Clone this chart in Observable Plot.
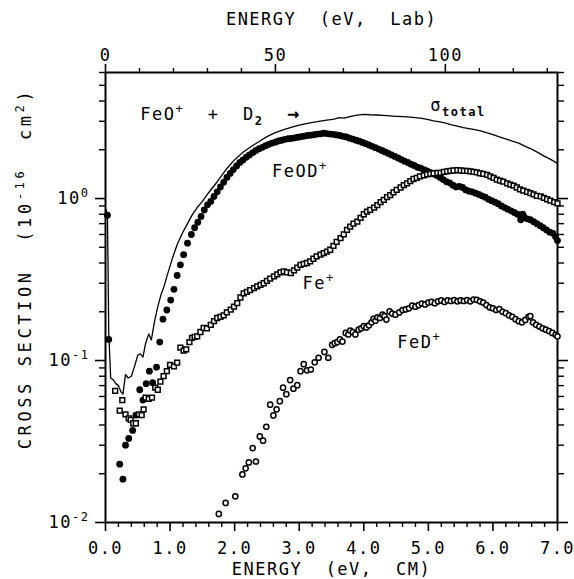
<!DOCTYPE html>
<html><head><meta charset="utf-8">
<script src="https://cdn.jsdelivr.net/npm/d3@7"></script>
<script src="https://cdn.jsdelivr.net/npm/@observablehq/plot@0.6"></script>
<style>
body{margin:0;background:#fff}
svg text{white-space:pre}
</style>
</head><body><div id="chart"></div>
<script>
// ---- axis / tick values ----
const massRatio = 19;                 // E_lab / E_cm for FeO+ (72) + D2 (4)
const xMajor = [0, 1, 2, 3, 4, 5, 6, 7];
const xMinor = [0.2,0.4,0.6,0.8,1.2,1.4,1.6,1.8,2.2,2.4,2.6,2.8,3.2,3.4,3.6,3.8,4.2,4.4,4.6,4.8,5.2,5.4,5.6,5.8,6.2,6.4,6.6,6.8];
const labMajor = [0, 50, 100];
const labMinor = [10, 20, 30, 40, 60, 70, 80, 90, 110, 120, 130];
const yMajor = [0.01, 0.1, 1];
const yMinor = [0.02,0.03,0.04,0.05,0.06,0.07,0.08,0.09,0.2,0.3,0.4,0.5,0.6,0.7,0.8,0.9,2,3,4,5,6];

// ---- data: [E_cm (eV), cross section (1e-16 cm^2)] ----
const sigmaTotal = [[0.01,0.85],[0.03,0.79],[0.04,0.36],[0.05,0.15],[0.08,0.078],[0.12,0.076],[0.16,0.072],[0.2,0.07],[0.24,0.064],[0.27,0.062],[0.31,0.082],[0.35,0.078],[0.4,0.080],[0.45,0.092],[0.5,0.108],[0.54,0.11],[0.58,0.105],[0.62,0.127],[0.67,0.146],[0.71,0.134],[0.76,0.175],[0.81,0.215],[0.86,0.255],[0.91,0.29],[0.96,0.34],[1.03,0.42],[1.11,0.52],[1.19,0.61],[1.27,0.70],[1.34,0.79],[1.42,0.88],[1.5,0.96],[1.6,1.09],[1.73,1.27],[1.86,1.50],[1.99,1.72],[2.12,1.92],[2.25,2.09],[2.38,2.25],[2.5,2.41],[2.63,2.55],[2.76,2.66],[2.9,2.77],[3.02,2.85],[3.15,2.92],[3.28,2.98],[3.4,3.04],[3.54,3.09],[3.62,3.16],[3.7,3.14],[3.8,3.22],[3.9,3.27],[4.0,3.31],[4.1,3.29],[4.2,3.28],[4.36,3.25],[4.5,3.22],[4.62,3.20],[4.72,3.18],[4.8,3.16],[4.9,3.13],[5.0,3.07],[5.08,3.02],[5.18,2.97],[5.27,2.92],[5.36,2.85],[5.45,2.80],[5.54,2.74],[5.63,2.70],[5.72,2.66],[5.81,2.62],[5.9,2.55],[6.0,2.48],[6.1,2.40],[6.22,2.32],[6.3,2.26],[6.4,2.20],[6.5,2.10],[6.6,2.02],[6.7,1.92],[6.8,1.82],[6.9,1.74],[7.0,1.65]];

const feODplus = [[0.03,0.79],[0.05,0.135],[0.22,0.0229],[0.27,0.0185],[0.31,0.030],[0.36,0.033],[0.42,0.037],[0.47,0.046],[0.53,0.066],[0.58,0.057],[0.63,0.072],[0.68,0.086],[0.73,0.073],[0.79,0.091],[0.84,0.13],[0.89,0.18],[0.95,0.205],[1.01,0.236],[1.06,0.275],[1.11,0.335],[1.16,0.39],[1.21,0.45],[1.27,0.53],[1.33,0.60],[1.38,0.66],[1.43,0.715],[1.48,0.775],[1.53,0.85],[1.58,0.915],
[1.63,0.96],[1.68,1.03],[1.73,1.10],[1.78,1.18],[1.83,1.26],[1.88,1.35],[1.93,1.43],[1.98,1.51],[2.03,1.59],[2.08,1.67],[2.13,1.73],[2.18,1.80],[2.23,1.86],[2.28,1.92],[2.33,1.98],[2.38,2.03],[2.43,2.07],[2.48,2.12],[2.53,2.16],[2.58,2.20],[2.63,2.23],[2.68,2.27],[2.73,2.29],[2.78,2.32],[2.83,2.34],[2.88,2.35],[2.93,2.37],[2.98,2.39],[3.03,2.41],[3.08,2.43],[3.13,2.45],[3.18,2.46],[3.23,2.48],[3.28,2.50],[3.33,2.51],[3.38,2.53],[3.43,2.52],[3.48,2.50],[3.53,2.49],[3.58,2.47],[3.63,2.45],[3.68,2.42],[3.73,2.40],[3.78,2.36],[3.83,2.33],[3.88,2.29],[3.93,2.26],[3.98,2.22],[4.03,2.18],[4.08,2.14],[4.13,2.10],[4.18,2.06],[4.23,2.02],[4.28,1.98],[4.33,1.94],[4.38,1.90],[4.43,1.86],[4.48,1.82],[4.53,1.78],[4.58,1.74],[4.63,1.70],[4.68,1.67],[4.73,1.63],[4.78,1.60],[4.83,1.56],[4.88,1.54],[4.93,1.51],[4.98,1.48],[5.03,1.45],[5.08,1.42],[5.13,1.39],[5.18,1.35],[5.23,1.31],[5.28,1.27],[5.33,1.25],[5.38,1.21],[5.43,1.18],[5.48,1.19],[5.53,1.17],[5.58,1.13],[5.63,1.11],[5.68,1.10],[5.73,1.08],[5.78,1.06],[5.83,1.04],[5.88,1.02],[5.93,0.99],[5.98,0.97],[6.03,0.95],[6.08,0.93],[6.13,0.90],[6.18,0.88],[6.23,0.86],[6.28,0.84],[6.33,0.82],[6.38,0.80],[6.43,0.74],[6.46,0.80],[6.48,0.77],[6.53,0.75],[6.58,0.74],[6.63,0.72],[6.68,0.70],[6.73,0.68],[6.78,0.66],[6.83,0.64],[6.88,0.62],[6.93,0.61],[6.97,0.58],[7.0,0.55]];

const fePlus = [[0.15,0.065],[0.22,0.049],[0.26,0.057],[0.31,0.0465],[0.36,0.044],[0.39,0.043],[0.43,0.041],[0.47,0.041],[0.52,0.0465],[0.56,0.046],[0.59,0.050],[0.62,0.059],[0.67,0.058],[0.72,0.059],[0.77,0.068],[0.81,0.066],[0.85,0.074],[0.9,0.080],[0.95,0.086],[1.0,0.094],[1.06,0.092],[1.11,0.097],[1.16,0.12],[1.21,0.115],[1.25,0.117],[1.3,0.13],[1.34,0.138],[1.38,0.14],[1.42,0.141],[1.47,0.15],[1.52,0.159],[1.57,0.158],[1.63,0.166],[1.68,0.175],[1.73,0.183],[1.78,0.186],[1.83,0.19],[1.88,0.198],[1.94,0.206],[1.99,0.215],[2.04,0.226],[2.09,0.245],[2.14,0.26],[2.19,0.265],[2.24,0.272],[2.3,0.28],[2.35,0.287],[2.4,0.293],[2.45,0.30],[2.5,0.31],[2.55,0.32],[2.61,0.331],[2.66,0.34],[2.71,0.35],[2.76,0.355],[2.81,0.35],[2.87,0.347],[2.92,0.36],[2.97,0.375],[3.02,0.39],[3.07,0.395],[3.12,0.40],[3.17,0.409],[3.22,0.425],[3.27,0.44],[3.33,0.45],[3.38,0.46],[3.43,0.47],[3.48,0.483],[3.53,0.51],[3.58,0.54],[3.64,0.57],[3.69,0.60],[3.74,0.64],[3.79,0.67],[3.84,0.70],[3.9,0.72],[3.95,0.76],[4.0,0.80],[4.05,0.83],[4.1,0.85],[4.16,0.88],[4.21,0.91],[4.26,0.95],[4.31,0.98],[4.36,1.02],[4.41,1.05],[4.46,1.09],[4.51,1.13],[4.57,1.17],[4.62,1.21],[4.67,1.24],[4.72,1.28],[4.77,1.32],[4.82,1.34],[4.87,1.37],[4.93,1.39],[4.98,1.41],[5.03,1.42],[5.08,1.43],[5.14,1.44],[5.19,1.44],[5.24,1.46],[5.29,1.47],[5.34,1.48],[5.39,1.49],[5.45,1.50],[5.5,1.49],[5.55,1.48],[5.6,1.48],[5.65,1.47],[5.7,1.46],[5.75,1.45],[5.8,1.43],[5.85,1.42],[5.91,1.40],[5.96,1.37],[6.01,1.34],[6.06,1.31],[6.11,1.29],[6.16,1.27],[6.22,1.24],[6.27,1.22],[6.32,1.20],[6.37,1.17],[6.42,1.14],[6.47,1.12],[6.53,1.10],[6.58,1.08],[6.63,1.06],[6.68,1.04],[6.74,1.03],[6.79,1.01],[6.84,0.99],[6.89,0.97],[6.95,0.95],[7.0,0.935]];

const feDplus = [[1.755,0.0113],[1.86,0.0132],[2.01,0.0145],[2.12,0.0198],[2.17,0.0216],[2.22,0.0235],[2.28,0.0288],[2.33,0.0238],[2.39,0.034],[2.44,0.032],[2.49,0.039],[2.55,0.0534],[2.6,0.0458],[2.65,0.050],[2.7,0.0561],[2.75,0.068],[2.8,0.062],[2.86,0.0757],[2.91,0.067],[2.97,0.0704],[3.02,0.086],[3.07,0.095],[3.12,0.087],[3.18,0.088],[3.24,0.0976],[3.3,0.104],[3.39,0.113],[3.45,0.104],[3.51,0.125],[3.55,0.128],[3.59,0.130],[3.63,0.135],[3.67,0.131],[3.72,0.148],[3.76,0.145],[3.79,0.153],[3.83,0.15],[3.87,0.145],[3.92,0.155],[3.96,0.158],[4.0,0.163],[4.04,0.16],[4.08,0.165],[4.12,0.172],[4.15,0.181],[4.18,0.176],[4.21,0.185],[4.25,0.183],[4.29,0.192],[4.32,0.188],[4.35,0.179],[4.4,0.201],[4.44,0.195],[4.49,0.192],[4.55,0.198],[4.6,0.205],[4.65,0.207],[4.7,0.21],[4.75,0.218],[4.8,0.215],[4.85,0.22],[4.9,0.225],[4.95,0.222],[5.0,0.228],[5.05,0.23],[5.1,0.226],[5.15,0.232],[5.2,0.235],[5.25,0.23],[5.3,0.235],[5.35,0.233],[5.4,0.236],[5.45,0.232],[5.5,0.235],[5.55,0.233],[5.6,0.236],[5.65,0.232],[5.7,0.238],[5.75,0.237],[5.8,0.232],[5.85,0.228],[5.9,0.22],[5.95,0.213],[6.0,0.21],[6.05,0.205],[6.1,0.208],[6.15,0.20],[6.2,0.196],[6.25,0.19],[6.3,0.186],[6.35,0.18],[6.4,0.175],[6.45,0.172],[6.5,0.178],[6.55,0.186],[6.58,0.188],[6.62,0.172],[6.67,0.166],[6.72,0.162],[6.77,0.158],[6.82,0.155],[6.87,0.152],[6.92,0.148],[6.97,0.144],[7.0,0.141]];

// ---- text ----
const annotations = [
  {x: 0.54, y: 3.29, text: "FeO^{+}  +  D_{2}  →"},
  {x: 2.58, y: 1.47, text: "FeOD^{+}"},
  {x: 3.05, y: 0.30, text: "Fe^{+}"},
  {x: 4.52, y: 0.130, text: "FeD^{+}"},
  {x: 5.03, y: 3.74, text: "σ_{total}"}
];
const xTitle = "ENERGY  (eV,  CM)";
const labTitle = "ENERGY  (eV,  Lab)";
const yTitle = "CROSS SECTION  (10^{-16}  cm^{2})";

const FS = 17;
const X = d => d[0], Y = d => d[1];

const chart = Plot.plot({
  width: 574, height: 579,
  marginLeft: 105, marginRight: 17, marginTop: 72, marginBottom: 57,
  style: {fontFamily: "'DejaVu Sans Mono', monospace", fontSize: FS + "px", background: "white", color: "black", letterSpacing: "1.5px"},
  x: {domain: [0, 7]},
  y: {type: "log", domain: [0.01, 6]},
  marks: [
    Plot.axisX(xMajor, {anchor: "bottom", tickSize: 9, tickPadding: 10, tickFormat: d3.format(".1f"), strokeWidth: 1.6, label: null}),
    Plot.axisX(xMinor, {anchor: "bottom", tickSize: 5, tickFormat: () => "", strokeWidth: 1.4, label: null}),
    Plot.axisX(labMajor.map(l => l / massRatio), {anchor: "top", tickSize: 9, tickPadding: 3, tickFormat: d => String(Math.round(d * massRatio)), strokeWidth: 1.6, label: null}),
    Plot.axisX(labMinor.map(l => l / massRatio), {anchor: "top", tickSize: 5, tickFormat: () => "", strokeWidth: 1.4, label: null}),
    Plot.axisY(yMajor, {anchor: "left", tickSize: 10, tickPadding: 6, tickFormat: d => `10^{${Math.round(Math.log10(d))}}`, strokeWidth: 1.6, label: null}),
    Plot.axisY(yMinor, {anchor: "left", tickSize: 6, tickFormat: () => "", strokeWidth: 1.4, label: null}),
    Plot.axisY(yMajor, {anchor: "right", tickSize: 10, tickFormat: () => "", strokeWidth: 1.6, label: null}),
    Plot.axisY(yMinor, {anchor: "right", tickSize: 6, tickFormat: () => "", strokeWidth: 1.4, label: null}),
    Plot.frame({stroke: "black", strokeWidth: 2}),
    Plot.line(sigmaTotal, {x: X, y: Y, stroke: "black", strokeWidth: 1.3}),
    Plot.dot(feODplus, {x: X, y: Y, r: 3.4, fill: "black", stroke: "none"}),
    Plot.dot(fePlus, {x: X, y: Y, symbol: "square", r: 2.7, fill: "white", stroke: "black", strokeWidth: 1.5}),
    Plot.dot(feDplus, {x: X, y: Y, r: 2.6, fill: "white", stroke: "black", strokeWidth: 1.5}),
    Plot.text(annotations, {x: "x", y: "y", text: "text", textAnchor: "start", fontSize: FS}),
    Plot.text([xTitle], {frameAnchor: "bottom", dy: 52, fontSize: FS}),
    Plot.text([labTitle], {frameAnchor: "top", dy: -60, fontSize: FS}),
    Plot.text([yTitle], {frameAnchor: "left", textAnchor: "middle", lineAnchor: "middle", rotate: -90, dx: -80, dy: -29, fontSize: FS, className: "ytitle"})
  ]
});

// remove empty tick labels; render ^{..} / _{..} as superscript / subscript tspans
const NS = "http://www.w3.org/2000/svg";
d3.select(chart).selectAll("text").each(function() {
  const el = this;
  const s = el.textContent;
  if (s.trim() === "") { el.remove(); return; }
  if (s.startsWith("CROSS")) el.setAttribute("letter-spacing", "3.6px");
  if (!/[\^_]\{|→/.test(s)) return;
  const parts = s.split(/([\^_]\{[^}]*\}|→)/).filter(p => p);
  while (el.firstChild) el.removeChild(el.firstChild);
  let shift = 0;
  for (const p of parts) {
    const m = p.match(/^([\^_])\{(.*)\}$/);
    const t = document.createElementNS(NS, "tspan");
    let target = 0;
    if (m) {
      target = m[1] === "^" ? -7 : 5;
      t.textContent = m[2];
      t.setAttribute("font-size", "12px");
      if (m[1] === "_") t.setAttribute("font-weight", "bold");
    } else {
      t.textContent = p;
      if (p === "→") { t.setAttribute("font-weight", "bold"); t.setAttribute("font-size", "20px"); }
    }
    if (target !== shift) { t.setAttribute("dy", target - shift); shift = target; }
    el.appendChild(t);
  }
});

document.getElementById("chart").appendChild(chart);
</script>
</body></html>
